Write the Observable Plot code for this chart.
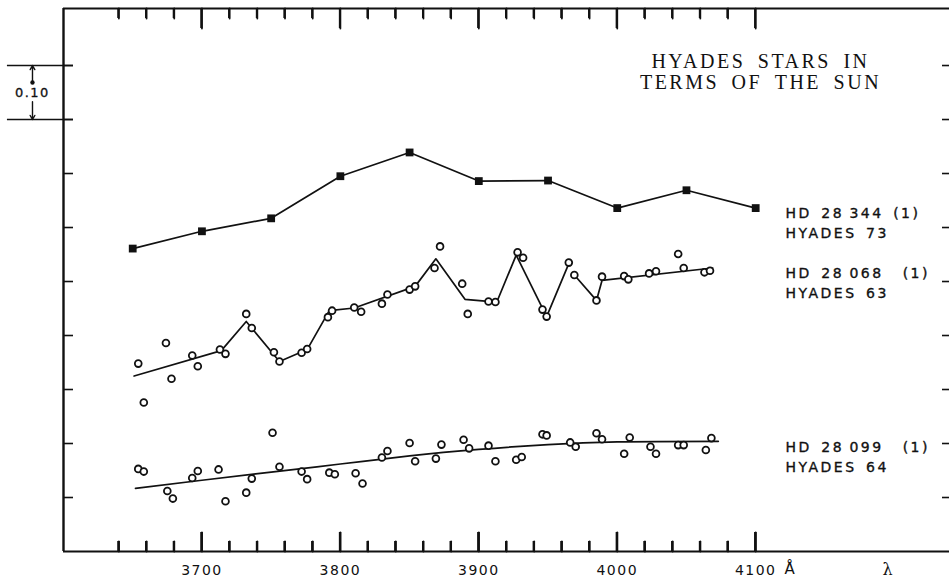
<!DOCTYPE html>
<html>
<head>
<meta charset="utf-8">
<script src="https://cdn.jsdelivr.net/npm/d3@7"></script>
<script src="https://cdn.jsdelivr.net/npm/@observablehq/plot@0.6"></script>
<style>
  body { margin: 0; background: #fff; }
  svg { display: block; }
  g[aria-label="x-axis tick label"] text { letter-spacing: 1.5px; }
</style>
</head>
<body>
<div id="chart"></div>
<script>
// ---------- DATA ----------
// HD 28 344 (Hyades 73): filled squares joined by a line
const hd28344Wavelength = [3650, 3700, 3750, 3800, 3850, 3900, 3950, 4000, 4050, 4100];
const hd28344Value      = [0.561, 0.593, 0.617, 0.695, 0.739, 0.686, 0.687, 0.636, 0.669, 0.636];

// HD 28 068 (Hyades 63): open circles
const hd28068Wavelength = [3654, 3658, 3674, 3678, 3693, 3697, 3713, 3717, 3732, 3736,
                           3752, 3756, 3772, 3776, 3791, 3794, 3810, 3815, 3830, 3834,
                           3850, 3854, 3868, 3872, 3888, 3892, 3907, 3912, 3928, 3932,
                           3946, 3949, 3965, 3969, 3985, 3989, 4005, 4008, 4023, 4028,
                           4044, 4048, 4063, 4067];
const hd28068Value      = [0.348, 0.276, 0.386, 0.320, 0.363, 0.343, 0.374, 0.366, 0.440, 0.414,
                           0.369, 0.352, 0.368, 0.375, 0.434, 0.446, 0.452, 0.444, 0.459, 0.476,
                           0.485, 0.491, 0.525, 0.565, 0.496, 0.440, 0.463, 0.462, 0.554, 0.544,
                           0.448, 0.435, 0.535, 0.512, 0.465, 0.509, 0.510, 0.504, 0.515, 0.519,
                           0.551, 0.525, 0.517, 0.520];
// drawn line through HD 28 068 (null = break in the line)
const hd28068LineWavelength = [3651, 3714, 3732, 3756, 3776, 3792, 3810, 3854, 3869, 3890,
                               3913, 3927, 3949, 3965, 3967, 3969, 3985, 3989, 4069];
const hd28068LineValue      = [0.325, 0.372, 0.426, 0.352, 0.374, 0.446, 0.451, 0.491, 0.542, 0.467,
                               0.462, 0.549, 0.435, 0.533, null, 0.512, 0.465, 0.502, 0.525];

// HD 28 099 (Hyades 64): open circles
const hd28099Wavelength = [3654, 3658, 3675, 3679, 3693, 3697, 3712, 3717, 3732, 3736,
                           3751, 3756, 3772, 3776, 3792, 3796, 3811, 3816, 3830, 3834,
                           3850, 3854, 3869, 3873, 3889, 3893, 3907, 3912, 3927, 3931,
                           3946, 3949, 3966, 3970, 3985, 3989, 4005, 4009, 4024, 4028,
                           4044, 4048, 4064, 4068];
const hd28099Value      = [0.153, 0.148, 0.112, 0.098, 0.136, 0.149, 0.152, 0.093, 0.109, 0.135,
                           0.220, 0.157, 0.148, 0.134, 0.146, 0.143, 0.145, 0.126, 0.174, 0.186,
                           0.201, 0.167, 0.172, 0.198, 0.207, 0.191, 0.196, 0.167, 0.170, 0.175,
                           0.217, 0.215, 0.202, 0.194, 0.219, 0.208, 0.181, 0.211, 0.194, 0.181,
                           0.197, 0.197, 0.188, 0.210];
// smooth drawn curve through HD 28 099
const hd28099CurveWavelength = [3652, 3700, 3750, 3800, 3850, 3900, 3950, 4000, 4073];
const hd28099CurveValue      = [0.117, 0.132, 0.147, 0.162, 0.177, 0.189, 0.198, 0.203, 0.204];

// axes
const majorTicks = [3700, 3800, 3900, 4000, 4100];
const minorTicks = [3640, 3660, 3680, 3720, 3740, 3760, 3780, 3820, 3840, 3860, 3880,
                    3920, 3940, 3960, 3980, 4020, 4040, 4060, 4080];
const yTicks = [0.1, 0.2, 0.3, 0.4, 0.5, 0.6, 0.7, 0.8, 0.9];
const scaleBarValues = [0.9, 0.8];   // the "0.10" scale bar
const scaleBarLabel = "0.10";
const unitLabel = "Å";
const axisSymbol = "λ";
const titleText = "HYADES\u2002STARS\u2002IN\nTERMS\u2002OF\u2002THE\u2002SUN";
const seriesNames = [
  "HD\u200228\u2009344\u2002(1)\nHYADES\u200273",
  "HD\u200228\u2009068\u2002\u2002(1)\nHYADES\u200263",
  "HD\u200228\u2009099\u2002\u2002(1)\nHYADES\u200264"
];

// ---------- BUILD ----------
const zip = (xs, ys) => xs.map((x, i) => ({x, y: ys[i]}));
const sqPts = zip(hd28344Wavelength, hd28344Value);
const midPts = zip(hd28068Wavelength, hd28068Value);
const midLine = zip(hd28068LineWavelength, hd28068LineValue);
const botPts = zip(hd28099Wavelength, hd28099Value);
const botCurve = zip(hd28099CurveWavelength, hd28099CurveValue);
const labels = [
  {text: seriesNames[0], y: hd28344Value[hd28344Value.length - 1]},
  {text: seriesNames[1], y: hd28068LineValue[hd28068LineValue.length - 1]},
  {text: seriesNames[2], y: hd28099CurveValue[hd28099CurveValue.length - 1]}
];

const ink = "#111";
const sans = "DejaVu Sans";
const yMax = 1.0056;
const len = px => px / 540;          // tick length (px) in y units
const halfW = 0.95 / 1.3844;         // half tick width (px) in x units

const tickSegs = [
  ...majorTicks.flatMap(t => [{x: t, y: 0, k: "bM" + t}, {x: t, y: len(19), k: "bM" + t}]),
  ...minorTicks.flatMap(t => [{x: t, y: 0, k: "bm" + t}, {x: t, y: len(10), k: "bm" + t}]),
  ...majorTicks.flatMap(t => [{x: t, y: yMax, k: "tM" + t}, {x: t, y: yMax - len(20), k: "tM" + t}]),
  ...minorTicks.flatMap(t => [{x: t, y: yMax, k: "tm" + t}, {x: t, y: yMax - len(10), k: "tm" + t}])
];
const tickRects = [
  ...majorTicks.map(t => ({x: t, y1: 0, y2: len(19)})),
  ...minorTicks.map(t => ({x: t, y1: 0, y2: len(10)})),
  ...majorTicks.map(t => ({x: t, y1: yMax - len(20), y2: yMax})),
  ...minorTicks.map(t => ({x: t, y1: yMax - len(10), y2: yMax}))
];

const chart = Plot.plot({
  width: 949,
  height: 579,
  marginLeft: 63,
  marginRight: 0,
  marginTop: 8,
  marginBottom: 28,
  style: {background: "#fff", overflow: "visible"},
  x: {domain: [3600, 4240]},
  y: {domain: [0, yMax]},
  marks: [
    // frame
    Plot.ruleX([3600], {stroke: ink, strokeWidth: 2.4}),
    Plot.ruleY([0, yMax], {stroke: ink, strokeWidth: 2}),
    // x tick labels
    Plot.axisX(majorTicks, {anchor: "bottom", tickSize: 0, tickPadding: 14, fontSize: 14, fontFamily: sans, fill: ink, stroke: ink, strokeWidth: 0.3, label: null, tickFormat: d => String(d)}),
    // y ticks (pointing inward), no labels
    Plot.axisY(yTicks, {anchor: "left", tickSize: -10, strokeWidth: 1.6, stroke: ink, text: null, label: null}),
    Plot.axisY(yTicks, {anchor: "right", tickSize: -8, strokeWidth: 1.6, stroke: ink, text: null, label: null}),
    // scale bar outside the frame
    Plot.ruleY(scaleBarValues, {x1: 3559.5, x2: 3607.2, stroke: ink, strokeWidth: 1.5}),
    Plot.arrow([0], {x1: 3577.6, x2: 3577.6, y1: 0.8685, y2: 0.9, stroke: ink, strokeWidth: 1.4, headLength: 5, inset: 0}),
    Plot.arrow([0], {x1: 3577.6, x2: 3577.6, y1: 0.833, y2: 0.8, stroke: ink, strokeWidth: 1.4, headLength: 5, inset: 0}),
    Plot.dot([0], {x: 3577.6, y: 0.8685, r: 2.2, fill: ink}),
    Plot.text([scaleBarLabel], {x: 3577.5, y: 0.85, fontSize: 13, fontFamily: sans, fill: ink, stroke: ink, strokeWidth: 0.3, textAnchor: "middle", lineAnchor: "middle"}),
    // unit and lambda
    Plot.text([unitLabel], {x: 4100, y: 0, dx: 34, dy: 12, fontSize: 15, fontFamily: sans, fill: ink, textAnchor: "middle", lineAnchor: "top"}),
    Plot.text([axisSymbol], {frameAnchor: "bottom-right", dx: -62, dy: 12, fontSize: 16, fontFamily: "DejaVu Serif", fill: ink, textAnchor: "middle", lineAnchor: "top"}),
    // title
    Plot.text([titleText], {frameAnchor: "top-right", dx: -189, dy: 45, fontSize: 20, lineHeight: 1.05, fontFamily: "Liberation Serif", fill: ink, textAnchor: "middle", lineAnchor: "top"}),
    // series
    Plot.line(sqPts, {x: "x", y: "y", stroke: ink, strokeWidth: 1.7}),
    Plot.dot(sqPts, {x: "x", y: "y", symbol: "square", r: 4.4, fill: ink, stroke: "none"}),
    Plot.line(midLine, {x: "x", y: "y", stroke: ink, strokeWidth: 1.7}),
    Plot.dot(midPts, {x: "x", y: "y", r: 3.4, fill: "#fff", stroke: ink, strokeWidth: 1.8}),
    Plot.line(botCurve, {x: "x", y: "y", curve: "natural", stroke: ink, strokeWidth: 1.7}),
    Plot.dot(botPts, {x: "x", y: "y", r: 3.4, fill: "#fff", stroke: ink, strokeWidth: 1.8}),
    // series labels
    Plot.text(labels, {y: "y", text: "text", frameAnchor: "right", dx: -164, dy: -4, fontSize: 14, lineHeight: 1.43, fontFamily: sans, fill: ink, stroke: ink, strokeWidth: 0.35, textAnchor: "start", lineAnchor: "top"}),
    // x ticks pointing inward (equivalent overlapping variants)
    Plot.rect(tickRects, {x1: d => d.x - halfW, x2: d => d.x + halfW, y1: "y1", y2: "y2", fill: ink}),
    Plot.line(tickSegs, {x: "x", y: "y", z: "k", stroke: ink, strokeWidth: 1.8}),
    Plot.ruleX(majorTicks, {y1: 0, y2: len(19), stroke: ink, strokeWidth: 1.8}),
    Plot.ruleX(minorTicks, {y1: 0, y2: len(10), stroke: ink, strokeWidth: 1.6})
  ]
});
document.getElementById("chart").appendChild(chart);

// letter-spacing for the spaced lettering of the original
try {
  d3.select(chart).selectAll("text").each(function () {
    const t = this.textContent || "";
    if (t.indexOf("STARS") >= 0) this.style.letterSpacing = "2.5px";
    else if (t.indexOf("HD") === 0) this.style.letterSpacing = "2.5px";
    else if (t === scaleBarLabel) this.style.letterSpacing = "1.5px";
  });
} catch (e) {}

// extra pass for the inward x ticks, positioned with Plot's own scales
try {
  const sx = chart.scale("x"), sy = chart.scale("y");
  const g = d3.select(chart).append("g").attr("stroke", ink).attr("fill", ink);
  const add = (t, v1, v2, w) => {
    const x = sx.apply(t), y1 = sy.apply(v1), y2 = sy.apply(v2);
    g.append("rect").attr("x", x - w / 2).attr("width", w)
      .attr("y", Math.min(y1, y2)).attr("height", Math.abs(y2 - y1)).attr("stroke", "none");
  };
  majorTicks.forEach(t => { add(t, 0, len(19), 1.9); add(t, yMax, yMax - len(20), 1.9); });
  minorTicks.forEach(t => { add(t, 0, len(10), 1.7); add(t, yMax, yMax - len(10), 1.7); });
} catch (e) {}
</script>
</body>
</html>
